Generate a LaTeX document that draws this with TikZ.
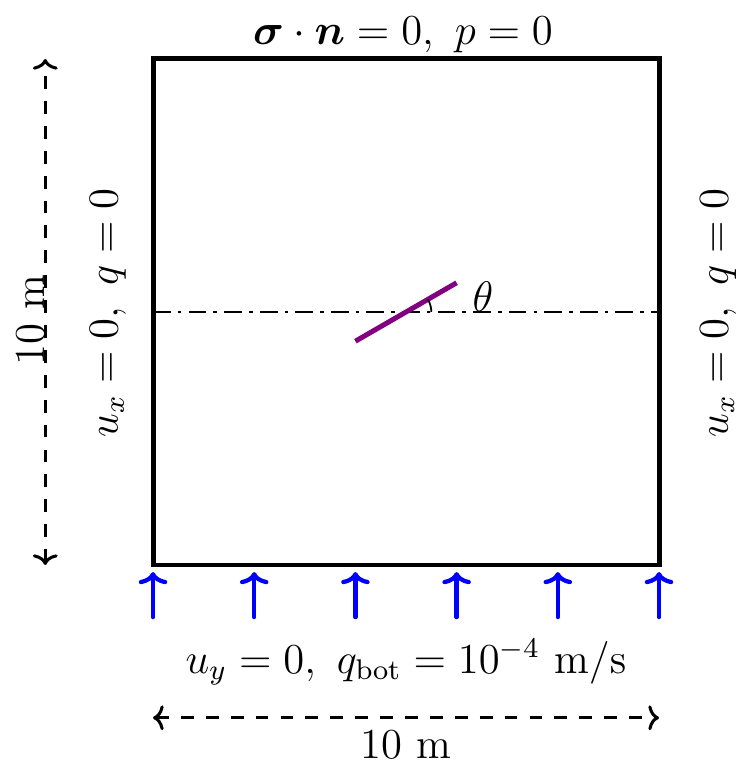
\documentclass[tikz,border=0pt]{standalone}
\usepackage{amsmath}
\usepackage{amsfonts}
\usepackage{tikz}
\usetikzlibrary{arrows,arrows.meta,positioning,calc}

\definecolor{crackcol}{RGB}{128,0,128}
\tikzset{
  lbl/.style={font=\large,inner sep=1pt},
  dimarrow/.style={{To[round,length=3pt,width=7pt]}-{To[round,length=3pt,width=7pt]},line width=0.85pt,dash pattern=on 3.6pt off 3.4pt},
  fluxarrow/.style={-{To[round,length=3.4pt,width=8pt]},blue,line width=1.2pt,line cap=round},
}

\begin{document}
\begin{tikzpicture}[scale=0.5]
		\useasboundingbox (-3.024,-4.170) rectangle (11.739,11.166);
		% domain
		\draw[line width=1.4pt] (0,0) coordinate (sw) rectangle (10,10) coordinate (ne);
		\coordinate (nw) at (0,10);
		\coordinate (se) at (10,0);
		\coordinate (midl) at (0,5);
		\coordinate (midr) at (10,5);
		\draw[line width=0.4pt,dash pattern=on 5pt off 2pt on 1pt off 2pt] (midl) -- (midr);
		% fracture
		\coordinate (ctr) at (5,5);
		\coordinate (fa) at (4,4.423);
		\coordinate (fb) at (6,5.577);
		\draw[line width=1.4pt,crackcol] (fa) -- (fb);
		\draw[line width=0.5pt] ($(ctr)+(0.5,0)$) arc (0:30:0.5);
		\node[lbl] (theta) at (6.52,5.3) {$\theta$};
		% boundary conditions
		\node[lbl] (top) at (4.94,10.47) {$\boldsymbol{\sigma}\cdot\boldsymbol{n}=0,\ p=0$};
		\node[lbl,rotate=90] (left) at (-0.89,4.98) {$u_x=0,\ q=0$};
		\node[lbl,rotate=90] (right) at (11.17,4.98) {$u_x=0,\ q=0$};
		\node[lbl] (bot) at (5,-1.92) {$u_y=0,\ q_{\mathrm{bot}}=10^{-4}\ \mathrm{m/s}$};
		\foreach \x in {0,2,...,10}{
			\coordinate (in\x) at (\x,-1.03);
			\coordinate (out\x) at (\x,-0.14);
			\draw[fluxarrow] (in\x) -- (out\x);
		}
		% dimensions
		\coordinate (dl) at (0,-3.02);
		\coordinate (dr) at (10,-3.02);
		\draw[dimarrow] (dl) -- (dr);
		\node[lbl] (wlen) at (5,-3.56) {10 m};
		\coordinate (db) at (-2.13,0);
		\coordinate (dt) at (-2.13,10);
		\draw[dimarrow] (db) -- (dt);
		\node[lbl,rotate=90] (hlen) at (-2.41,4.84) {10 m};
\end{tikzpicture}
\end{document}
